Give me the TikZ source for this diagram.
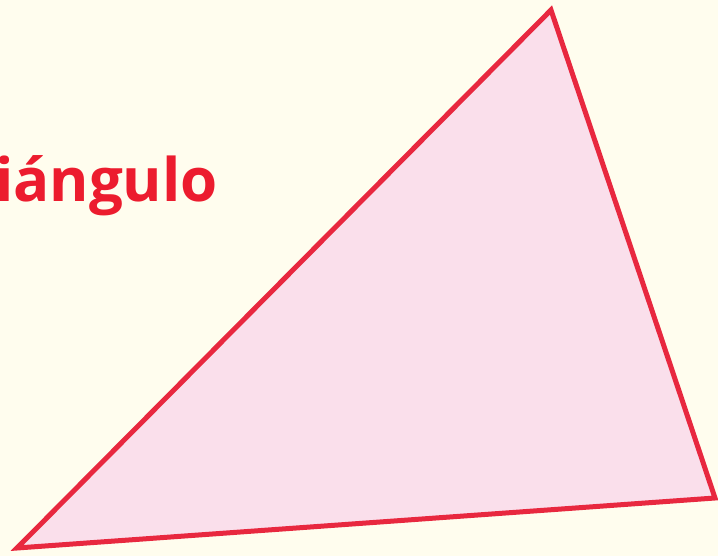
\documentclass[tikz,border=0pt]{standalone}
\usepackage{fontspec}
\setmainfont{Open Sans}
\definecolor{bgc}{HTML}{FFFDEE}
\definecolor{redc}{HTML}{EC1C2E}
\definecolor{edgec}{HTML}{E8283F}
\definecolor{fillc}{HTML}{FADFEB}
\tikzset{tri/.style={draw=edgec,fill=fillc,line width=5pt,line join=miter},
  title/.style={text=redc,font=\bfseries\fontsize{60}{60}\selectfont,inner sep=0pt,anchor=base east}}
\begin{document}
\begin{tikzpicture}[x=1pt,y=-1pt]
\useasboundingbox (0,0) rectangle (718,556);
\clip (0,0) rectangle (718,556);
\fill[bgc] (0,0) rectangle (718,556);
\coordinate (A) at (551,10);
\coordinate (B) at (17,548);
\coordinate (C) at (715,498);
\draw[tri] (A) -- (C) -- (B) -- cycle;
\node[title] (t) at (218,202) {Triángulo};
\end{tikzpicture}
\end{document}
